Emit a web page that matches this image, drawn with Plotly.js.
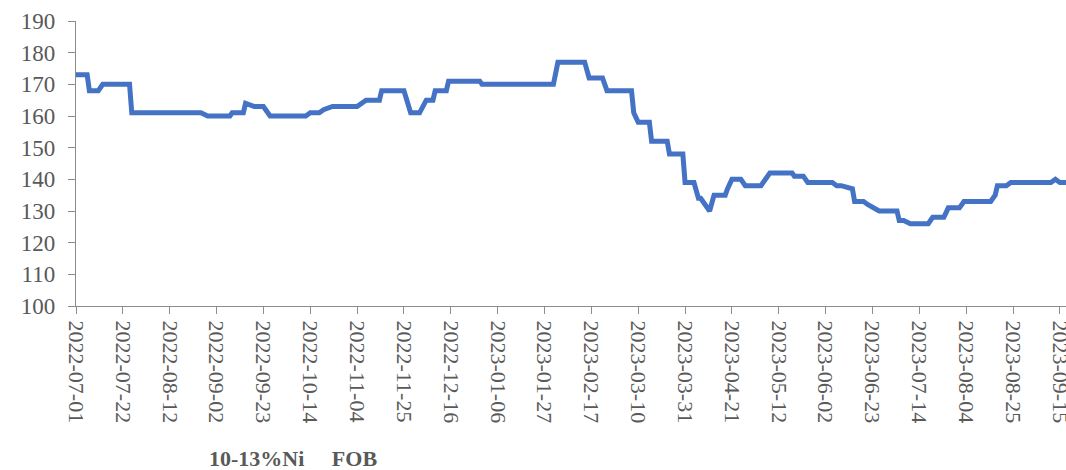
<!DOCTYPE html>
<html>
<head>
<meta charset="utf-8">
<script src="https://cdn.plot.ly/plotly-3.0.1.min.js"></script>
<style>
  html, body { margin: 0; padding: 0; background: #ffffff; }
  #chart { width: 1066px; height: 470px; }
</style>
</head>
<body>
<div id="chart"></div>
<script>
// Price change points (USD/wet ton)
const dates = [
  '2022-07-01','2022-07-06','2022-07-07','2022-07-11','2022-07-13','2022-07-25','2022-07-26',
  '2022-08-26','2022-08-29','2022-09-08','2022-09-09','2022-09-14','2022-09-15','2022-09-19',
  '2022-09-23','2022-09-26','2022-10-12','2022-10-14','2022-10-18','2022-10-20','2022-10-24',
  '2022-11-04','2022-11-08','2022-11-14','2022-11-15','2022-11-25','2022-11-28','2022-12-02',
  '2022-12-05','2022-12-08','2022-12-09','2022-12-14','2022-12-15','2022-12-29','2022-12-30',
  '2023-01-31','2023-02-02','2023-02-14','2023-02-16','2023-02-22','2023-02-24','2023-03-07',
  '2023-03-08','2023-03-10','2023-03-15','2023-03-16','2023-03-23','2023-03-24','2023-03-30',
  '2023-03-31','2023-04-04','2023-04-06','2023-04-07','2023-04-11','2023-04-13','2023-04-18',
  '2023-04-19','2023-04-21','2023-04-25','2023-04-27','2023-05-04','2023-05-05','2023-05-08',
  '2023-05-18','2023-05-19','2023-05-23','2023-05-25','2023-06-05','2023-06-07','2023-06-09',
  '2023-06-14','2023-06-15','2023-06-19','2023-06-21','2023-06-26','2023-07-04','2023-07-05',
  '2023-07-07','2023-07-10','2023-07-18','2023-07-20','2023-07-25','2023-07-27','2023-08-01',
  '2023-08-03','2023-08-15','2023-08-17','2023-08-18','2023-08-22','2023-08-24','2023-09-11',
  '2023-09-13','2023-09-15','2023-09-18'
];
const prices = [
  173,173,168,168,170,170,161,
  161,160,160,161,161,164,163,
  163,160,160,161,161,162,163,
  163,165,165,168,168,161,161,
  165,165,168,168,171,171,170,
  170,177,177,172,172,168,168,
  161,158,158,152,152,148,148,
  139,139,134,134,130,135,135,
  137,140,140,138,138,139,142,
  142,141,141,139,139,138,138,
  137,133,133,132,130,130,127,
  127,126,126,128,128,131,131,
  133,133,135,138,138,139,139,
  140,139,139
];
const yTicks = [100,110,120,130,140,150,160,170,180,190];
const titleText = '10-13%Ni\u00A0\u00A0\u00A0\u00A0\u00A0FOB';

const grey = '#595959';
const axisCol = '#8c8c8c';
const serif = '"Liberation Serif", "Times New Roman", serif';

const trace = {
  x: dates,
  y: prices,
  type: 'scatter',
  mode: 'lines',
  line: { color: '#4472C4', width: 5, shape: 'linear' },
  hoverinfo: 'x+y'
};

const layout = {
  width: 1066,
  height: 470,
  margin: { l: 76, r: 0, t: 21, b: 164 },
  paper_bgcolor: '#ffffff',
  plot_bgcolor: '#ffffff',
  showlegend: false,
  font: { family: serif, color: grey, size: 22 },
  xaxis: {
    type: 'date',
    range: ['2022-07-01', '2023-09-17 18:00'],
    tick0: '2022-07-01',
    dtick: 21 * 24 * 3600 * 1000,
    tickformat: '%Y-%m-%d',
    tickangle: 90,
    ticks: 'outside',
    ticklen: 7,
    tickcolor: axisCol,
    tickwidth: 1.3,
    ticklabeloverflow: 'allow',
    ticklabelstandoff: 2,
    showline: true,
    linecolor: axisCol,
    linewidth: 1.3,
    showgrid: false,
    zeroline: false,
    tickfont: { family: serif, color: grey, size: 22 }
  },
  yaxis: {
    range: [100, 190],
    tickvals: yTicks,
    ticktext: yTicks.map(String),
    ticks: 'outside',
    ticklen: 7,
    tickcolor: axisCol,
    tickwidth: 1.3,
    ticklabelstandoff: 8,
    showline: true,
    linecolor: axisCol,
    linewidth: 1.3,
    showgrid: false,
    zeroline: false,
    tickfont: { family: serif, color: grey, size: 23 }
  },
  annotations: [{
    text: '<b>' + titleText + '</b>',
    xref: 'paper', yref: 'paper',
    x: 0.219, y: -0.535,
    xanchor: 'center', yanchor: 'middle',
    showarrow: false,
    font: { family: serif, color: grey, size: 22 }
  }]
};

Plotly.newPlot('chart', [trace], layout, { displayModeBar: false, responsive: false });
</script>
</body>
</html>
